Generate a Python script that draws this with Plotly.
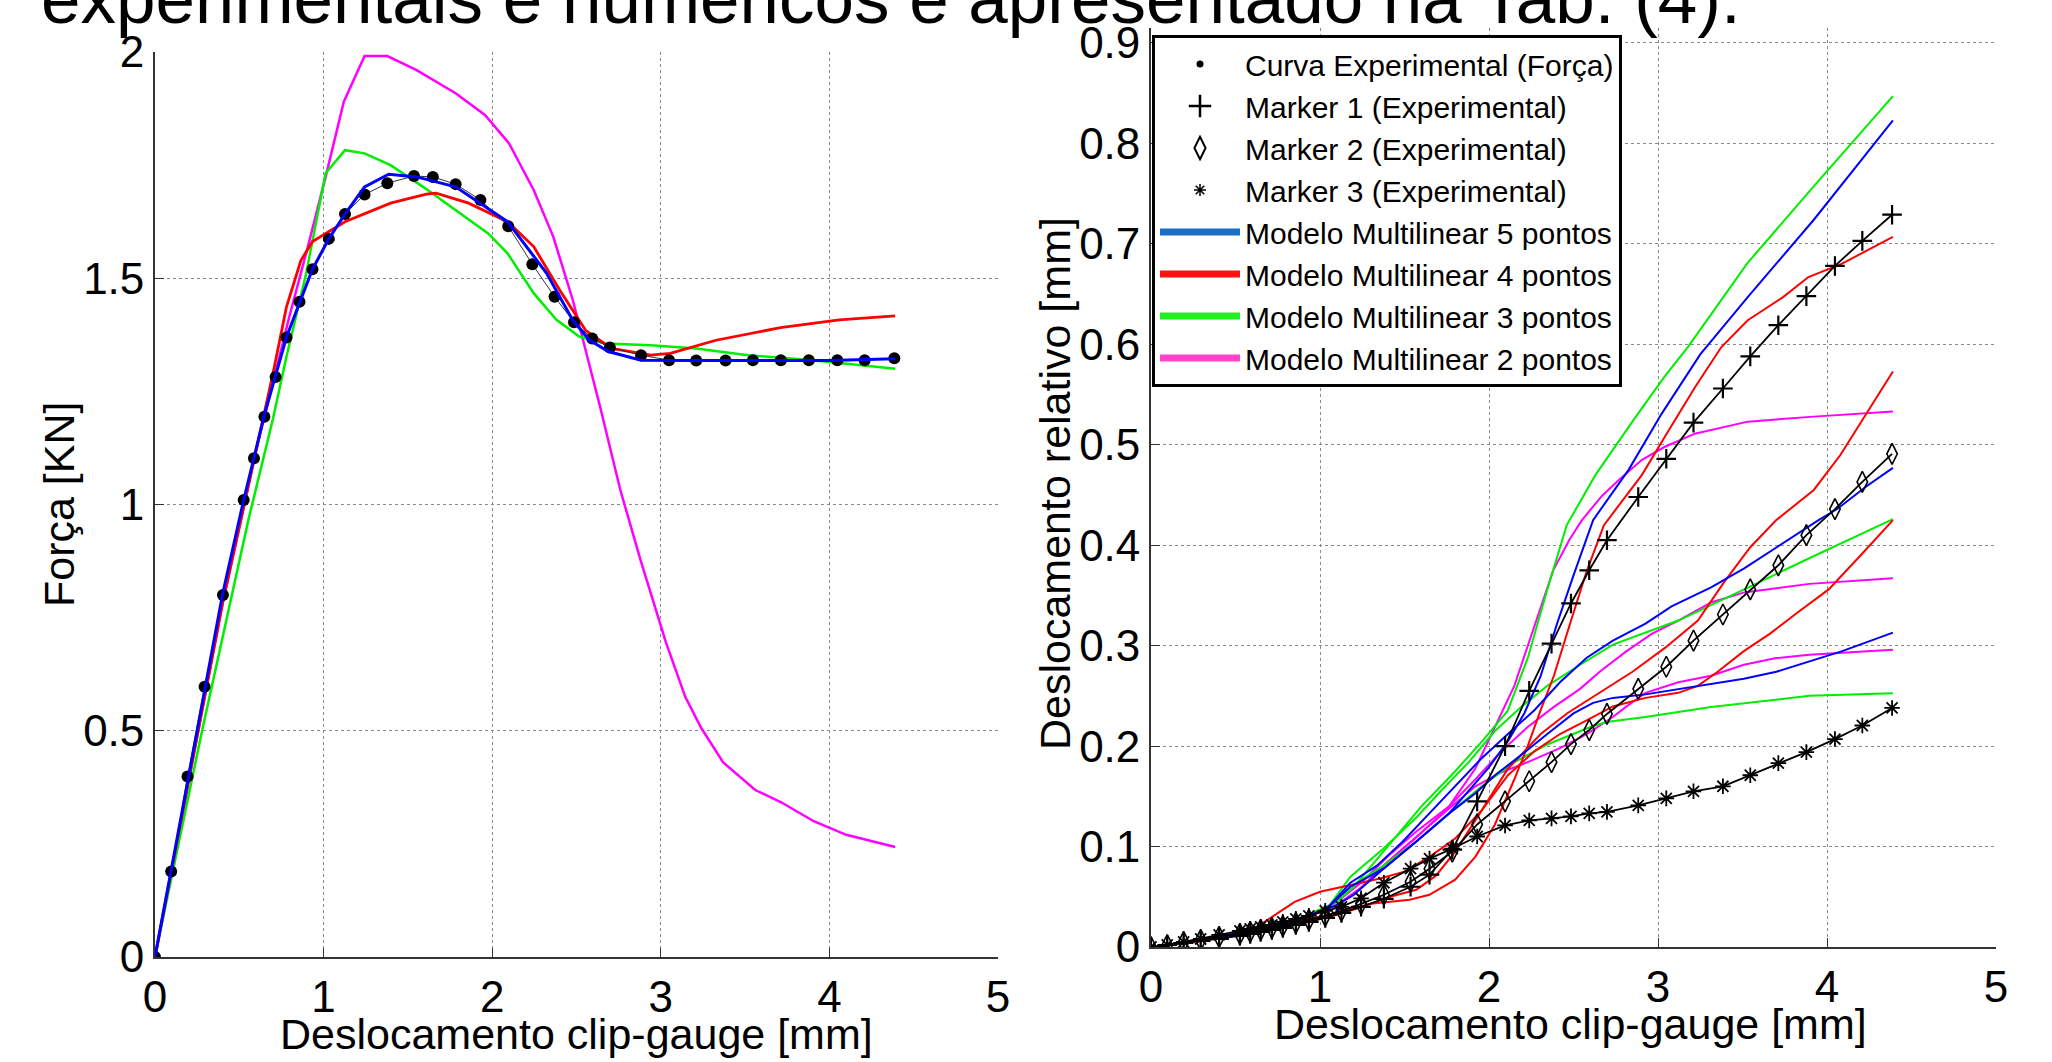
import plotly.graph_objects as go

W, H = 2052, 1062

# ---------------- experimental data (shared abscissa) ----------------
x_exp = [0, 0.096, 0.193, 0.294, 0.403, 0.526, 0.587, 0.649, 0.715, 0.780, 0.857, 0.934,
         1.031, 1.127, 1.243, 1.378, 1.536, 1.648, 1.783, 1.930, 2.095, 2.238, 2.370, 2.485,
         2.593, 2.698, 2.883, 3.049, 3.210, 3.384, 3.546, 3.712, 3.878, 4.047, 4.209, 4.385]
forca_exp = [0, 0.189, 0.399, 0.597, 0.80, 1.01, 1.102, 1.194, 1.282, 1.369, 1.448, 1.52,
             1.587, 1.642, 1.685, 1.71, 1.726, 1.724, 1.708, 1.673, 1.615, 1.531, 1.459, 1.403,
             1.367, 1.347, 1.330, 1.319, 1.318, 1.318, 1.319, 1.319, 1.319, 1.319, 1.319, 1.323]
marker1 = [0, 0.002, 0.004, 0.006, 0.008, 0.011, 0.013, 0.015, 0.017, 0.019, 0.022, 0.025,
           0.029, 0.034, 0.040, 0.048, 0.060, 0.072, 0.097, 0.145, 0.200, 0.255, 0.302, 0.342,
           0.375, 0.405, 0.448, 0.486, 0.522, 0.556, 0.588, 0.619, 0.648, 0.678, 0.703, 0.729]
marker2 = [0, 0.002, 0.005, 0.007, 0.010, 0.013, 0.015, 0.017, 0.019, 0.021, 0.024, 0.027,
           0.031, 0.036, 0.043, 0.052, 0.065, 0.078, 0.095, 0.122, 0.145, 0.165, 0.184, 0.202,
           0.216, 0.232, 0.257, 0.279, 0.305, 0.331, 0.356, 0.380, 0.410, 0.436, 0.463, 0.491]
marker3 = [0, 0.002, 0.005, 0.008, 0.012, 0.016, 0.018, 0.020, 0.022, 0.025, 0.028, 0.031,
           0.036, 0.040, 0.0485, 0.064, 0.078, 0.088, 0.098, 0.110, 0.121, 0.126, 0.128, 0.130,
           0.133, 0.1345, 0.141, 0.148, 0.155, 0.160, 0.171, 0.183, 0.194, 0.207, 0.2205, 0.238]

# ---------------- force models (left panel) ----------------
f5_x = [0, 0.1, 0.2, 0.3, 0.4, 0.526, 0.65, 0.78, 0.934, 1.031, 1.127, 1.243, 1.386, 1.552,
        1.783, 2.091, 2.323, 2.477, 2.574, 2.689, 2.883, 3.2, 3.6, 4.0, 4.39]
f5_y = [0, 0.2, 0.4, 0.6, 0.8, 1.01, 1.20, 1.37, 1.52, 1.587, 1.642, 1.702, 1.73, 1.724,
        1.702, 1.625, 1.511, 1.408, 1.364, 1.338, 1.319, 1.318, 1.318, 1.318, 1.322]
f4_x = [0, 0.2, 0.4, 0.6, 0.7, 0.78, 0.865, 0.934, 1.127, 1.397, 1.609, 1.667, 1.86, 2.091,
        2.246, 2.40, 2.554, 2.708, 2.94, 3.056, 3.327, 3.71, 4.058, 4.39]
f4_y = [0, 0.39, 0.78, 1.12, 1.29, 1.437, 1.539, 1.581, 1.625, 1.666, 1.686, 1.688, 1.666,
        1.625, 1.57, 1.474, 1.385, 1.345, 1.330, 1.334, 1.363, 1.391, 1.408, 1.417]
f3_x = [0, 0.282, 0.554, 0.70, 0.78, 0.896, 1.012, 1.127, 1.243, 1.397, 1.59, 1.783, 1.976,
        2.091, 2.246, 2.381, 2.516, 2.67, 2.94, 3.21, 3.518, 3.904, 4.39]
f3_y = [0, 0.505, 0.966, 1.19, 1.327, 1.51, 1.732, 1.783, 1.776, 1.750, 1.702, 1.651, 1.599,
        1.555, 1.467, 1.408, 1.371, 1.356, 1.352, 1.345, 1.330, 1.319, 1.30]
f2_x = [0, 0.2, 0.4, 0.6, 0.8, 0.9, 1.012, 1.12, 1.243, 1.378, 1.552, 1.783, 1.957, 2.10,
        2.246, 2.362, 2.478, 2.64, 2.76, 2.88, 3.03, 3.145, 3.24, 3.37, 3.56, 3.714,
        3.907, 4.10, 4.39]
f2_y = [0, 0.39, 0.78, 1.12, 1.42, 1.56, 1.724, 1.89, 1.991, 1.991, 1.96, 1.909, 1.861, 1.798,
        1.695, 1.592, 1.452, 1.216, 1.032, 0.877, 0.696, 0.575, 0.506, 0.43, 0.369, 0.342,
        0.30, 0.27, 0.243]

# ---------------- relative displacement models (right panel) ----------------
# marker 1 group
d5m1_x = [0, 0.3, 0.6, 0.9, 1.1, 1.2, 1.376, 1.57, 1.764, 1.996, 2.112, 2.21, 2.306, 2.403,
          2.5, 2.616, 2.826, 3.022, 3.25, 3.531, 3.922, 4.39]
d5m1_y = [0, 0.007, 0.016, 0.028, 0.042, 0.052, 0.078, 0.105, 0.133, 0.178, 0.205, 0.233,
          0.27, 0.322, 0.37, 0.425, 0.475, 0.531, 0.59, 0.647, 0.724, 0.823]
d4m1_x = [0, 0.3, 0.6, 0.9, 1.1, 1.3, 1.53, 1.647, 1.80, 1.92, 2.035, 2.15, 2.229, 2.306,
          2.384, 2.48, 2.578, 2.68, 2.905, 3.062, 3.218, 3.374, 3.531, 3.74, 3.89, 4.086,
          4.24, 4.39]
d4m1_y = [0, 0.007, 0.015, 0.026, 0.034, 0.043, 0.047, 0.052, 0.067, 0.09, 0.122, 0.167,
          0.20, 0.236, 0.27, 0.322, 0.374, 0.42, 0.47, 0.514, 0.557, 0.597, 0.624, 0.647,
          0.667, 0.680, 0.694, 0.707]
d3m1_x = [0, 0.3, 0.6, 0.9, 1.1, 1.2, 1.4, 1.6, 1.8, 1.96, 2.11, 2.23, 2.345, 2.46, 2.63,
          2.865, 3.04, 3.18, 3.53, 3.92, 4.39]
d3m1_y = [0, 0.007, 0.016, 0.03, 0.045, 0.06, 0.10, 0.14, 0.175, 0.205, 0.235, 0.288, 0.356,
          0.42, 0.47, 0.527, 0.568, 0.598, 0.681, 0.757, 0.847]
d2m1_x = [0, 0.3, 0.6, 0.9, 1.1, 1.2, 1.376, 1.57, 1.764, 1.92, 2.035, 2.15, 2.27, 2.38,
          2.474, 2.55, 2.668, 2.768, 2.905, 3.041, 3.218, 3.531, 3.922, 4.39]
d2m1_y = [0, 0.007, 0.016, 0.028, 0.042, 0.052, 0.081, 0.109, 0.14, 0.178, 0.219, 0.26,
          0.32, 0.375, 0.405, 0.425, 0.449, 0.465, 0.485, 0.498, 0.511, 0.523, 0.528, 0.533]
# marker 2 group
d5m2_x = [0, 0.3, 0.6, 0.9, 1.05, 1.18, 1.337, 1.49, 1.647, 1.80, 1.957, 2.112, 2.27, 2.42,
          2.578, 2.733, 2.926, 3.08, 3.314, 3.51, 3.70, 3.95, 4.06, 4.236, 4.39]
d5m2_y = [0, 0.007, 0.016, 0.028, 0.04, 0.064, 0.081, 0.105, 0.133, 0.160, 0.188, 0.212,
          0.236, 0.2635, 0.288, 0.305, 0.322, 0.339, 0.358, 0.377, 0.398, 0.425, 0.436, 0.459,
          0.477]
d4m2_x = [0, 0.3, 0.6, 0.85, 1.0, 1.2, 1.35, 1.5, 1.65, 1.8, 1.957, 2.112, 2.19, 2.306,
          2.461, 2.655, 2.849, 3.043, 3.236, 3.39, 3.546, 3.70, 3.922, 4.08, 4.235, 4.39]
d4m2_y = [0, 0.007, 0.017, 0.045, 0.055, 0.062, 0.068, 0.075, 0.09, 0.108, 0.136, 0.1775,
          0.191, 0.212, 0.2325, 0.253, 0.274, 0.298, 0.325, 0.363, 0.398, 0.425, 0.455, 0.49,
          0.531, 0.573]
d3m2_x = [0, 0.3, 0.6, 0.9, 1.05, 1.18, 1.376, 1.57, 1.725, 1.88, 2.035, 2.19, 2.345, 2.539,
          2.733, 3.12, 3.51, 3.895, 4.39]
d3m2_y = [0, 0.007, 0.016, 0.028, 0.04, 0.07, 0.098, 0.129, 0.157, 0.184, 0.215, 0.239, 0.26,
          0.281, 0.301, 0.325, 0.356, 0.387, 0.426]
d2m2_x = [0, 0.3, 0.6, 0.9, 1.1, 1.25, 1.4, 1.57, 1.764, 1.92, 2.074, 2.229, 2.384, 2.539,
          2.655, 2.81, 2.965, 3.12, 3.314, 3.51, 3.895, 4.39]
d2m2_y = [0, 0.007, 0.016, 0.028, 0.045, 0.065, 0.09, 0.115, 0.140, 0.167, 0.195, 0.219,
          0.239, 0.257, 0.274, 0.294, 0.312, 0.325, 0.343, 0.353, 0.3615, 0.367]
# marker 3 group
d5m3_x = [0, 0.3, 0.6, 0.9, 1.05, 1.18, 1.376, 1.57, 1.764, 1.92, 2.035, 2.19, 2.345, 2.50,
          2.616, 2.733, 2.926, 3.12, 3.314, 3.508, 3.70, 3.895, 4.09, 4.39]
d5m3_y = [0, 0.007, 0.016, 0.028, 0.04, 0.06, 0.078, 0.105, 0.133, 0.153, 0.171, 0.191,
          0.212, 0.2325, 0.243, 0.248, 0.2515, 0.2566, 0.262, 0.267, 0.274, 0.284, 0.2945,
          0.313]
d4m3_x = [0, 0.3, 0.6, 0.9, 1.1, 1.25, 1.415, 1.57, 1.686, 1.80, 1.957, 2.112, 2.27, 2.42,
          2.578, 2.733, 2.926, 3.12, 3.236, 3.353, 3.508, 3.663, 3.818, 4.01, 4.205, 4.39]
d4m3_y = [0, 0.006, 0.014, 0.024, 0.032, 0.04, 0.05, 0.057, 0.071, 0.095, 0.136, 0.171,
          0.195, 0.212, 0.2257, 0.2395, 0.248, 0.253, 0.26, 0.274, 0.2945, 0.312, 0.332, 0.356,
          0.391, 0.425]
d3m3_x = [0, 0.3, 0.6, 0.9, 1.05, 1.18, 1.376, 1.57, 1.764, 1.957, 2.15, 2.345, 2.6, 2.694,
          2.926, 3.314, 3.895, 4.39]
d3m3_y = [0, 0.007, 0.016, 0.028, 0.04, 0.06, 0.081, 0.105, 0.133, 0.16, 0.184, 0.2016,
          0.219, 0.224, 0.229, 0.239, 0.25, 0.2525]
d2m3_x = [0, 0.3, 0.6, 0.9, 1.1, 1.25, 1.4, 1.57, 1.764, 1.92, 2.074, 2.229, 2.42, 2.578,
          2.733, 2.81, 2.926, 3.12, 3.314, 3.508, 3.70, 3.895, 4.39]
d2m3_y = [0, 0.007, 0.016, 0.028, 0.042, 0.06, 0.085, 0.11, 0.138, 0.160, 0.174, 0.184,
          0.198, 0.212, 0.229, 0.239, 0.253, 0.2635, 0.270, 0.281, 0.2876, 0.291, 0.296]

x_ticks = [0, 1, 2, 3, 4, 5]
y1_ticks = [0, 0.5, 1, 1.5, 2]
y1_labels = ["0", "0.5", "1", "1.5", "2"]
y2_ticks = [0, 0.1, 0.2, 0.3, 0.4, 0.5, 0.6, 0.7, 0.8, 0.9]
y2_labels = ["0", "0.1", "0.2", "0.3", "0.4", "0.5", "0.6", "0.7", "0.8", "0.9"]

legend_names = ["Curva Experimental (Força)", "Marker 1 (Experimental)",
                "Marker 2 (Experimental)", "Marker 3 (Experimental)",
                "Modelo Multilinear 5 pontos", "Modelo Multilinear 4 pontos",
                "Modelo Multilinear 3 pontos", "Modelo Multilinear 2 pontos"]

BLUE, RED, GREEN, MAG = "#0000ff", "#ff0000", "#00ee00", "#ff00ff"
LEG_COLORS = ["#1a6fc4", "#ff1010", "#22ee22", "#ff44cc"]
FONT = "Liberation Sans, Arial, Helvetica, sans-serif"

fig = go.Figure()

# ---- legend-only entries ----
leg_symbols = [("circle", 7, 0), ("cross-thin-open", 20, 2.5),
               ("diamond-tall-open", 22, 2), ("asterisk-open", 10, 1.5)]
for name, (sym, sz, lw) in zip(legend_names[:4], leg_symbols):
    fig.add_trace(go.Scatter(x=[None], y=[None], mode="markers", name=name,
                             marker=dict(symbol=sym, size=sz, color="black",
                                         line=dict(color="black", width=lw)),
                             xaxis="x2", yaxis="y2"))
for name, col in zip(legend_names[4:], LEG_COLORS):
    fig.add_trace(go.Scatter(x=[None], y=[None], mode="lines", name=name,
                             line=dict(color=col, width=7), xaxis="x2", yaxis="y2"))

# ---- left panel ----
for xs, ys, col, w in [(f2_x, f2_y, MAG, 2.5), (f3_x, f3_y, GREEN, 2.5),
                       (f4_x, f4_y, RED, 2.8)]:
    fig.add_trace(go.Scatter(x=xs, y=ys, mode="lines", showlegend=False,
                             line=dict(color=col, width=w), xaxis="x", yaxis="y"))
fig.add_trace(go.Scatter(x=x_exp, y=forca_exp, mode="lines+markers", showlegend=False,
                         line=dict(color="#333333", width=1),
                         marker=dict(symbol="circle", size=12, color="black"),
                         xaxis="x", yaxis="y"))
fig.add_trace(go.Scatter(x=f5_x, y=f5_y, mode="lines", showlegend=False,
                         line=dict(color=BLUE, width=3), xaxis="x", yaxis="y"))

# ---- right panel ----
models = [
    (d2m1_x, d2m1_y, MAG), (d2m2_x, d2m2_y, MAG), (d2m3_x, d2m3_y, MAG),
    (d3m1_x, d3m1_y, GREEN), (d3m2_x, d3m2_y, GREEN), (d3m3_x, d3m3_y, GREEN),
    (d4m1_x, d4m1_y, RED), (d4m2_x, d4m2_y, RED), (d4m3_x, d4m3_y, RED),
    (d5m1_x, d5m1_y, BLUE), (d5m2_x, d5m2_y, BLUE), (d5m3_x, d5m3_y, BLUE),
]
for xs, ys, col in models:
    fig.add_trace(go.Scatter(x=xs, y=ys, mode="lines", showlegend=False,
                             line=dict(color=col, width=2), xaxis="x2", yaxis="y2"))
for ys, sym, sz, lw in [(marker1, "cross-thin-open", 14, 2.2),
                        (marker2, "diamond-tall-open", 15, 1.6),
                        (marker3, "asterisk-open", 13, 1.8)]:
    fig.add_trace(go.Scatter(x=x_exp, y=ys, mode="lines+markers", showlegend=False,
                             line=dict(color="black", width=1.8),
                             marker=dict(symbol=sym, size=sz, color="black",
                                         line=dict(color="black", width=lw)),
                             xaxis="x2", yaxis="y2"))

axis_common = dict(showline=True, linecolor="#333333", linewidth=1.8, ticks="inside",
                   ticklen=9, tickcolor="#333333", showgrid=True, gridcolor="#8a8a8a",
                   griddash="dot", gridwidth=1, zeroline=False, automargin=False,
                   tickfont=dict(family=FONT, size=44, color="black"), mirror=False)

Y2_TOP = 0.915
fig.update_layout(
    width=W, height=H, margin=dict(l=0, r=0, t=0, b=0),
    paper_bgcolor="white", plot_bgcolor="white",
    font=dict(family=FONT, color="black"),
    xaxis=dict(domain=[155 / W, 998 / W], range=[0, 5], tickvals=x_ticks, anchor="y",
               **axis_common),
    yaxis=dict(domain=[1 - 957 / H, 1 - 52 / H], range=[0, 2], tickvals=y1_ticks,
               ticktext=y1_labels, anchor="x", **axis_common),
    xaxis2=dict(domain=[1151 / W, 1996 / W], range=[0, 5], tickvals=x_ticks, anchor="y2",
                **axis_common),
    yaxis2=dict(domain=[1 - 947 / H, 1 - (947 - Y2_TOP * 1004.5) / H], range=[0, Y2_TOP],
                tickvals=y2_ticks, ticktext=y2_labels, anchor="x2", **axis_common),
    legend=dict(x=1152 / W, y=1 - 35 / H, xanchor="left", yanchor="top",
                bgcolor="white", bordercolor="black", borderwidth=3,
                font=dict(family=FONT, size=30, color="black"),
                itemwidth=80, tracegroupgap=0, traceorder="normal"),
    showlegend=True,
)

title_font = dict(family=FONT, size=43, color="black")
annotations = [
    dict(text="Deslocamento clip-gauge [mm]", x=576 / W, y=1 - 1034 / H),
    dict(text="Deslocamento clip-gauge [mm]", x=1570 / W, y=1 - 1024 / H),
    dict(text="Força [KN]", x=59 / W, y=1 - 504 / H, textangle=-90),
    dict(text="Deslocamento relativo [mm]", x=1055 / W, y=1 - 484 / H, textangle=-90),
]
for a in annotations:
    fig.add_annotation(xref="paper", yref="paper", showarrow=False, xanchor="center",
                       yanchor="middle", font=title_font, **a)
fig.add_annotation(text="experimentais e numéricos é apresentado na Tab. (4).",
                   xref="paper", yref="paper", x=39 / W, y=1 - 40 / H, xanchor="left",
                   yanchor="bottom", showarrow=False,
                   font=dict(family=FONT, size=71, color="black"))

fig.write_html("out.html", config={"displayModeBar": False},
               post_script="document.body.style.margin='0';")
